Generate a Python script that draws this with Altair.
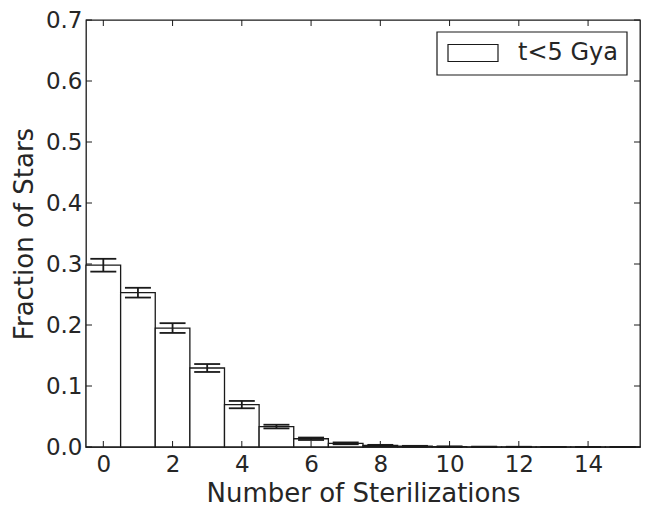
import altair as alt
import pandas as pd

# Data
n_steril = list(range(16))
fraction = [0.298, 0.253, 0.195, 0.1295, 0.0695, 0.0335, 0.0135, 0.006,
            0.0025, 0.0012, 0.0006, 0.0003, 0.0002, 0.0001, 0.00005, 0.00003]
error = [0.0105, 0.008, 0.008, 0.0065, 0.006, 0.003, 0.002, 0.0015,
         0.001, 0.0007, 0.0005, 0.0003, 0.0002, 0.0001, 0.00005, 0.00003]
series_name = "t<5 Gya"
x_ticks = [0, 2, 4, 6, 8, 10, 12, 14]
y_ticks = [0.0, 0.1, 0.2, 0.3, 0.4, 0.5, 0.6, 0.7]

FONT = "DejaVu Sans"
TXT = "#262626"
W, H = 554, 427
BAR_HALF = 0.5
CAP_HALF = 0.375

df = pd.DataFrame({"n": n_steril, "frac": fraction, "err": error})
df["x0"] = df["n"] - BAR_HALF
df["x1"] = df["n"] + BAR_HALF
df["c0"] = df["n"] - CAP_HALF
df["c1"] = df["n"] + CAP_HALF
df["lo"] = df["frac"] - df["err"]
df["hi"] = df["frac"] + df["err"]
df["series"] = series_name

xs = alt.Scale(domain=[-0.5, 15.5], nice=False, zero=False)
ys = alt.Scale(domain=[0, 0.7], nice=False)

base = alt.Chart(df)

bars = base.mark_bar(stroke="#1a1a1a", strokeWidth=1.3).encode(
    x=alt.X("x0:Q", scale=xs,
            axis=alt.Axis(values=x_ticks, title="Number of Sterilizations",
                          ticks=False, domain=False, grid=False,
                          labelPadding=6, titleBaseline="alphabetic",
                          titleY=54, format="d")),
    x2="x1:Q",
    y=alt.Y("frac:Q", scale=ys,
            axis=alt.Axis(values=y_ticks, title="Fraction of Stars",
                          ticks=False, domain=False, grid=False, format=".1f",
                          labelPadding=4, titlePadding=8)),
    y2=alt.datum(0),
    fill=alt.Fill("series:N", scale=alt.Scale(range=["white"]),
                  legend=alt.Legend(
                      title=None, orient="none", legendX=361, legendY=7,
                      padding=0, symbolType="M-1,-0.34L1,-0.34L1,0.34L-1,0.34Z",
                      symbolSize=2500, symbolStrokeColor="#1a1a1a",
                      symbolStrokeWidth=1.2, symbolFillColor="white",
                      labelFont=FONT, labelFontSize=24, labelColor=TXT,
                      labelOffset=19)),
)

err_v = base.mark_rule(color="#1a1a1a", strokeWidth=1.8).encode(
    x=alt.X("n:Q", scale=xs), y=alt.Y("lo:Q", scale=ys), y2="hi:Q")
cap_lo = base.mark_rule(color="#1a1a1a", strokeWidth=1.8).encode(
    x=alt.X("c0:Q", scale=xs), x2="c1:Q", y=alt.Y("lo:Q", scale=ys))
cap_hi = base.mark_rule(color="#1a1a1a", strokeWidth=1.8).encode(
    x=alt.X("c0:Q", scale=xs), x2="c1:Q", y=alt.Y("hi:Q", scale=ys))

xt = alt.Chart(pd.DataFrame({"t": x_ticks}))
yt = alt.Chart(pd.DataFrame({"t": y_ticks}))
TL = 6
tick_style = dict(color="#1a1a1a", strokeWidth=1)
ticks_bottom = xt.mark_rule(**tick_style).encode(
    x=alt.X("t:Q", scale=xs), y=alt.value(H), y2=alt.value(H - TL))
ticks_top = xt.mark_rule(**tick_style).encode(
    x=alt.X("t:Q", scale=xs), y=alt.value(0), y2=alt.value(TL))
ticks_left = yt.mark_rule(**tick_style).encode(
    y=alt.Y("t:Q", scale=ys), x=alt.value(0), x2=alt.value(TL))
ticks_right = yt.mark_rule(**tick_style).encode(
    y=alt.Y("t:Q", scale=ys), x=alt.value(W), x2=alt.value(W - TL))

legend_frame = alt.Chart(pd.DataFrame({"a": [0]})).mark_rect(
    fill="white", stroke="#1a1a1a", strokeWidth=1.2).encode(
    x=alt.value(351), x2=alt.value(541), y=alt.value(12), y2=alt.value(55))

chart = alt.layer(
    bars, err_v, cap_lo, cap_hi,
    ticks_bottom, ticks_top, ticks_left, ticks_right, legend_frame
).properties(
    width=W, height=H,
    autosize=alt.AutoSizeParams(type="none"),
    padding={"left": 78, "top": 12, "right": 9, "bottom": 62},
).configure_view(
    stroke="#1a1a1a", strokeWidth=1.3
).configure_axis(
    labelFont=FONT, labelFontSize=23, labelColor=TXT,
    titleFont=FONT, titleFontSize=26, titleColor=TXT, titleFontWeight="normal",
)

chart.save("out.html", embed_options={"renderer": "svg", "actions": False})
